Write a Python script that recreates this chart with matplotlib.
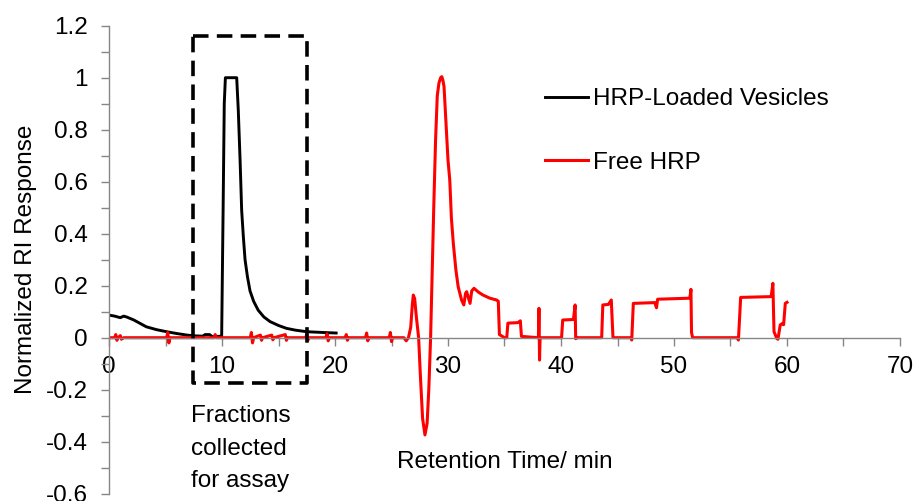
import matplotlib
matplotlib.use("Agg")
import matplotlib.pyplot as plt
from matplotlib.ticker import MultipleLocator, FixedLocator, FixedFormatter

plt.rcParams['font.family'] = ['Liberation Sans', 'DejaVu Sans']
FS = 17.5

# HRP-loaded vesicles (retention time in min, normalized RI response)
vesicle_t = [0, 0.5, 1.0, 1.3, 1.6, 2.2, 3.3, 4.2, 5.1, 6.0, 6.9, 7.6, 8.3, 8.5,
             8.9, 9.1, 9.6, 9.97, 10.1, 10.2, 10.3, 11.3, 11.44, 11.6, 11.74,
             11.89, 12.04, 12.25, 12.48, 12.8, 13.2, 13.7, 14.25, 15.0, 15.7,
             16.5, 17.5, 18.5, 19.5, 20.1]
vesicle_y = [0.087, 0.083, 0.077, 0.083, 0.079, 0.068, 0.042, 0.031, 0.023, 0.016,
             0.010, 0.007, 0.006, 0.012, 0.012, 0.005, 0.005, 0.006, 0.5, 0.9,
             1.0, 1.0, 0.876, 0.683, 0.49, 0.388, 0.30, 0.235, 0.18, 0.14,
             0.106, 0.08, 0.062, 0.047, 0.036, 0.029, 0.023, 0.021, 0.019, 0.018]

# Free HRP
hrp_t = [0, 0.5, 0.6, 0.7, 0.8, 1.0, 1.1, 1.3, 5.1, 5.2, 5.3, 5.4, 9.3, 9.4, 9.5,
         12.5, 12.6, 12.7, 12.8, 13.4, 13.5, 13.6, 14.4, 14.5, 14.6, 15.6, 15.7,
         15.8, 17.4, 17.5, 17.6, 17.7, 19.2, 19.3, 19.4, 19.5, 20.9, 21.0, 21.1,
         21.2, 22.7, 22.8, 22.9, 23.0, 24.8, 24.9, 25.0, 25.1, 26.1, 26.3, 26.5,
         26.7, 26.85, 26.93, 27.05, 27.2, 27.4, 27.55, 27.75, 27.96, 28.15, 28.3,
         28.46, 28.6, 28.75, 28.9, 29.05, 29.2, 29.35, 29.45, 29.55, 29.65,
         29.85, 30.0, 30.15, 30.17, 30.3, 30.47, 30.7, 30.9, 31.2,
         31.4, 31.55, 31.65, 31.95, 32.1, 32.3, 32.7, 33.1, 33.7, 34.3, 34.45,
         34.55, 35.0, 35.2, 35.3, 36.2, 36.4, 36.5, 38.0, 38.05, 38.1, 38.15,
         40.05, 40.15, 41.1, 41.25, 41.3, 41.4, 43.6, 43.7, 44.2, 44.45, 44.6,
         46.2, 46.26, 46.4, 48.3, 48.45, 48.55, 51.4, 51.5, 51.55, 51.65, 55.6,
         55.7, 55.9, 58.6, 58.75, 58.85, 59.1, 59.2, 59.4, 59.6, 59.7, 59.85, 60.0]
hrp_y = [0, 0, 0.012, -0.01, 0, 0.008, -0.006, 0, 0, 0.02, -0.02, 0, 0, 0.012, 0,
         0, 0.02, -0.02, 0, 0.01, -0.01, 0, 0.01, -0.008, 0, 0.012, -0.01,
         0, 0, 0.012, -0.01, 0, 0, 0.015, -0.012, 0, 0, 0.012, -0.01,
         0, 0, 0.018, -0.012, 0, 0, 0.02, -0.015, 0, 0, -0.012, 0.0,
         0.04, 0.13, 0.164, 0.15, 0.08, 0.0, -0.14, -0.31, -0.374, -0.33, -0.2,
         0.0, 0.25, 0.52, 0.76, 0.93, 0.98, 1.0, 1.004, 0.99, 0.965,
         0.80, 0.683, 0.61, 0.594, 0.46, 0.363, 0.26, 0.196, 0.145,
         0.126, 0.17, 0.177, 0.132, 0.18, 0.19, 0.175, 0.164, 0.152, 0.145, 0.14,
         0.012, 0.0, 0.0, 0.056, 0.058, 0.065, 0.005, 0.0, 0.113, -0.086, 0.0,
         0.0, 0.068, 0.07, 0.126, -0.004, 0, 0.0, 0.126, 0.128, 0.145, 0.0,
         0.0, -0.009, 0.132, 0.135, 0.115, 0.148, 0.152, 0.186, 0.02, 0.0, 0.0,
         -0.009, 0.155, 0.158, 0.209, 0.023, -0.003, -0.006, 0.049, 0.055, 0.05, 0.132, 0.136]

series_labels = ["HRP-Loaded Vesicles", "Free HRP"]
x_ticks = [0, 10, 20, 30, 40, 50, 60, 70]
x_tick_labels = ["0", "10", "20", "30", "40", "50", "60", "70"]
y_ticks = [-0.6, -0.4, -0.2, 0, 0.2, 0.4, 0.6, 0.8, 1.0, 1.2]
y_tick_labels = ["-0.6", "-0.4", "-0.2", "0", "0.2", "0.4", "0.6", "0.8", "1", "1.2"]

# collection window for the assay fractions (min, response)
window_t = (7.41, 17.5)
window_y = (-0.173, 1.1615)

fig = plt.figure(figsize=(9.18, 5.01), dpi=100)
W, H = 918, 501
ax = fig.add_axes([109 / W, (H - 493.7) / H, 791 / W, 468 / H])

ax.plot(vesicle_t, vesicle_y, color='black', lw=2.1, label=series_labels[0],
        solid_joinstyle='round')
ax.plot(hrp_t, hrp_y, color='#ff0000', lw=2.2, label=series_labels[1],
        solid_joinstyle='round')

ax.set_xlim(0, 70)
ax.set_ylim(-0.6, 1.2)

axis_gray = '#868686'
for s in ['top', 'right']:
    ax.spines[s].set_visible(False)
ax.spines['bottom'].set_position(('data', 0))
for s in ['left', 'bottom']:
    ax.spines[s].set_color(axis_gray)
    ax.spines[s].set_linewidth(1.0)

ax.xaxis.set_major_locator(FixedLocator(x_ticks))
ax.xaxis.set_major_formatter(FixedFormatter(x_tick_labels))
ax.xaxis.set_minor_locator(MultipleLocator(5))
ax.yaxis.set_major_locator(FixedLocator(y_ticks))
ax.yaxis.set_major_formatter(FixedFormatter(y_tick_labels))
ax.yaxis.set_minor_locator(MultipleLocator(0.1))

ax.tick_params(axis='x', which='both', direction='out', length=5.5, width=1,
               color=axis_gray, labelsize=FS, pad=8)
ax.tick_params(axis='y', which='both', direction='out', length=5.5, width=1,
               color=axis_gray, labelsize=FS, pad=10)

ax.set_ylabel("Normalized RI Response", fontsize=FS, labelpad=6)

ax.text(35, -0.478, "Retention Time/ min", fontsize=FS, ha='center', va='center')

# dashed rectangle marking the fractions that were collected
bx = [window_t[0], window_t[1], window_t[1], window_t[0], window_t[0]]
by = [window_y[1], window_y[1], window_y[0], window_y[0], window_y[1]]
ax.plot(bx, by, color='black', lw=2.6, linestyle=(0, (4.3, 2.3)), clip_on=False,
        zorder=5)
ax.text(7.3, -0.259, "Fractions\ncollected\nfor assay", fontsize=FS,
        ha='left', va='top', linespacing=1.62)

leg = ax.legend(loc='center left', bbox_to_anchor=(545 / W, (H - 131) / H),
                bbox_transform=fig.transFigure, frameon=False, fontsize=FS,
                handlelength=1.75, handletextpad=0.22, labelspacing=1.72,
                borderpad=0, borderaxespad=0)

fig.savefig("out.png", dpi=100)
